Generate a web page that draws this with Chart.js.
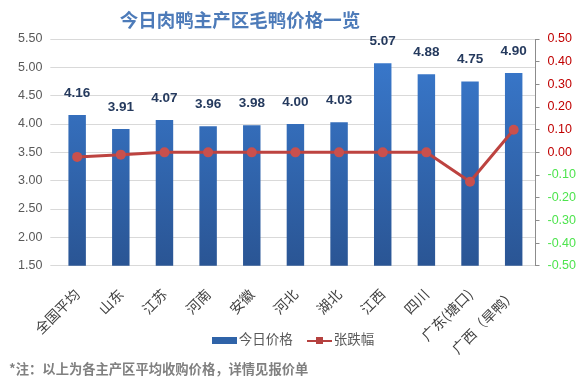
<!DOCTYPE html>
<html>
<head>
<meta charset="utf-8">
<script src="https://cdn.jsdelivr.net/npm/chart.js@4/dist/chart.umd.min.js"></script>
<style>
  html, body { margin:0; padding:0; background:#fff; }
  #wrap { position:relative; width:586px; height:388px; overflow:hidden; font-family:"Noto Sans CJK SC","DejaVu Sans",sans-serif; }
  canvas { position:absolute; left:0; top:0; }
  #title { position:absolute; left:0; width:480px; top:6px; text-align:center; font-size:18.5px; font-weight:bold; color:#4d7bb9; letter-spacing:0px; }
  #legend { position:absolute; left:0; width:586px; top:326px; text-align:center; font-size:13.5px; color:#595959; }
  #legend span.item { display:inline-block; margin:0 7px; vertical-align:middle; }
  .sw-bar { display:inline-block; width:25px; height:7px; background:#2f63a8; vertical-align:middle; margin-right:2px; }
  .sw-line { display:inline-block; position:relative; width:25px; height:7px; vertical-align:middle; margin-right:2px; }
  .sw-line:before { content:""; position:absolute; left:0; right:0; top:3px; height:2px; background:#b5413f; }
  .sw-line:after { content:""; position:absolute; left:9px; top:0; width:7px; height:7px; background:#b5413f; }
  #note { position:absolute; left:9px; top:359px; font-size:13.3px; font-weight:bold; color:#808080; }
</style>
</head>
<body>
<div id="wrap">
  <canvas id="c" width="586" height="388"></canvas>
  <div id="title">今日肉鸭主产区毛鸭价格一览</div>
  <div id="legend"><span class="item"><span class="sw-bar"></span>今日价格</span><span class="item"><span class="sw-line"></span>张跌幅</span></div>
  <div id="note">*注：以上为各主产区平均收购价格，详情见报价单</div>
</div>
<script>
const categories = ["全国平均","山东","江苏","河南","安徽","河北","湖北","江西","四川","广东(塘口)","广西（旱鸭）"];
const priceToday = [4.16, 3.91, 4.07, 3.96, 3.98, 4.00, 4.03, 5.07, 4.88, 4.75, 4.90];
const priceChange = [-0.02, -0.01, 0.00, 0.00, 0.00, 0.00, 0.00, 0.00, 0.00, -0.13, 0.10];
const priceLabel = "今日价格";
const changeLabel = "张跌幅";
const leftTicks = [1.5, 2.0, 2.5, 3.0, 3.5, 4.0, 4.5, 5.0, 5.5];
const rightTicks = [-0.5, -0.4, -0.3, -0.2, -0.1, 0, 0.1, 0.2, 0.3, 0.4, 0.5];

const valueLabels = {
  id: 'valueLabels',
  afterDatasetsDraw(chart) {
    const meta = chart.getDatasetMeta(1);
    const ctx = chart.ctx;
    ctx.save();
    ctx.font = 'bold 13.5px "Liberation Sans", Arial, sans-serif';
    ctx.fillStyle = '#253a5e';
    ctx.textAlign = 'center';
    ctx.textBaseline = 'middle';
    meta.data.forEach((bar, i) => {
      ctx.fillText(priceToday[i].toFixed(2), bar.x, bar.y - 22);
    });
    ctx.restore();
  }
};

function barGradient(context) {
  const chart = context.chart;
  const area = chart.chartArea;
  if (!area) return '#2f63a8';
  const g = chart.ctx.createLinearGradient(0, area.top, 0, area.bottom);
  g.addColorStop(0, '#3a7bd0');
  g.addColorStop(1, '#2a5594');
  return g;
}

new Chart(document.getElementById('c'), {
  data: {
    labels: categories,
    datasets: [
      {
        type: 'line',
        label: changeLabel,
        data: priceChange,
        yAxisID: 'y1',
        borderColor: '#bd4340',
        backgroundColor: '#c9504d',
        borderWidth: 3,
        pointRadius: 5,
        pointHoverRadius: 5,
        pointBackgroundColor: '#c9504d',
        pointBorderWidth: 0,
        tension: 0,
        order: 0
      },
      {
        type: 'bar',
        label: priceLabel,
        data: priceToday,
        yAxisID: 'y',
        backgroundColor: barGradient,
        barPercentage: 0.4,
        categoryPercentage: 1.0,
        order: 1
      }
    ]
  },
  options: {
    responsive: false,
    animation: false,
    devicePixelRatio: 1,
    layout: { padding: { top: 39, bottom: 19, left: 10, right: 2 } },
    plugins: {
      legend: { display: false },
      title: { display: false },
      tooltip: { enabled: false }
    },
    scales: {
      x: {
        grid: { display: false },
        border: { display: false },
        ticks: {
          minRotation: 45, maxRotation: 45,
          color: '#404040',
          font: { size: 14, family: '"Noto Sans CJK SC", sans-serif' },
          padding: 12
        }
      },
      y: {
        position: 'left',
        min: 1.5, max: 5.5,
        afterBuildTicks(axis) { axis.ticks = leftTicks.map(v => ({ value: v })); },
        grid: { color: '#d9d9d9', lineWidth: 1, tickLength: 5, drawTicks: true },
        border: { display: false },
        ticks: {
          color: '#595959',
          font: { size: 12.5, family: '"Liberation Sans", Arial, sans-serif' },
          padding: 8,
          callback: v => Number(v).toFixed(2)
        }
      },
      y1: {
        position: 'right',
        min: -0.5, max: 0.5,
        afterBuildTicks(axis) { axis.ticks = rightTicks.map(v => ({ value: v })); },
        grid: { drawOnChartArea: false, color: '#8c8c8c', tickLength: 4 },
        border: { display: true, color: '#8c8c8c' },
        ticks: {
          font: { size: 12.5, family: '"Liberation Sans", Arial, sans-serif' },
          padding: 8,
          color: ctx => (ctx.tick && ctx.tick.value < -0.0001) ? '#4ee44e' : '#c00000',
          callback: v => (Math.abs(v) < 1e-9 ? 0 : Number(v)).toFixed(2)
        }
      }
    }
  },
  plugins: [valueLabels]
});
</script>
</body>
</html>
